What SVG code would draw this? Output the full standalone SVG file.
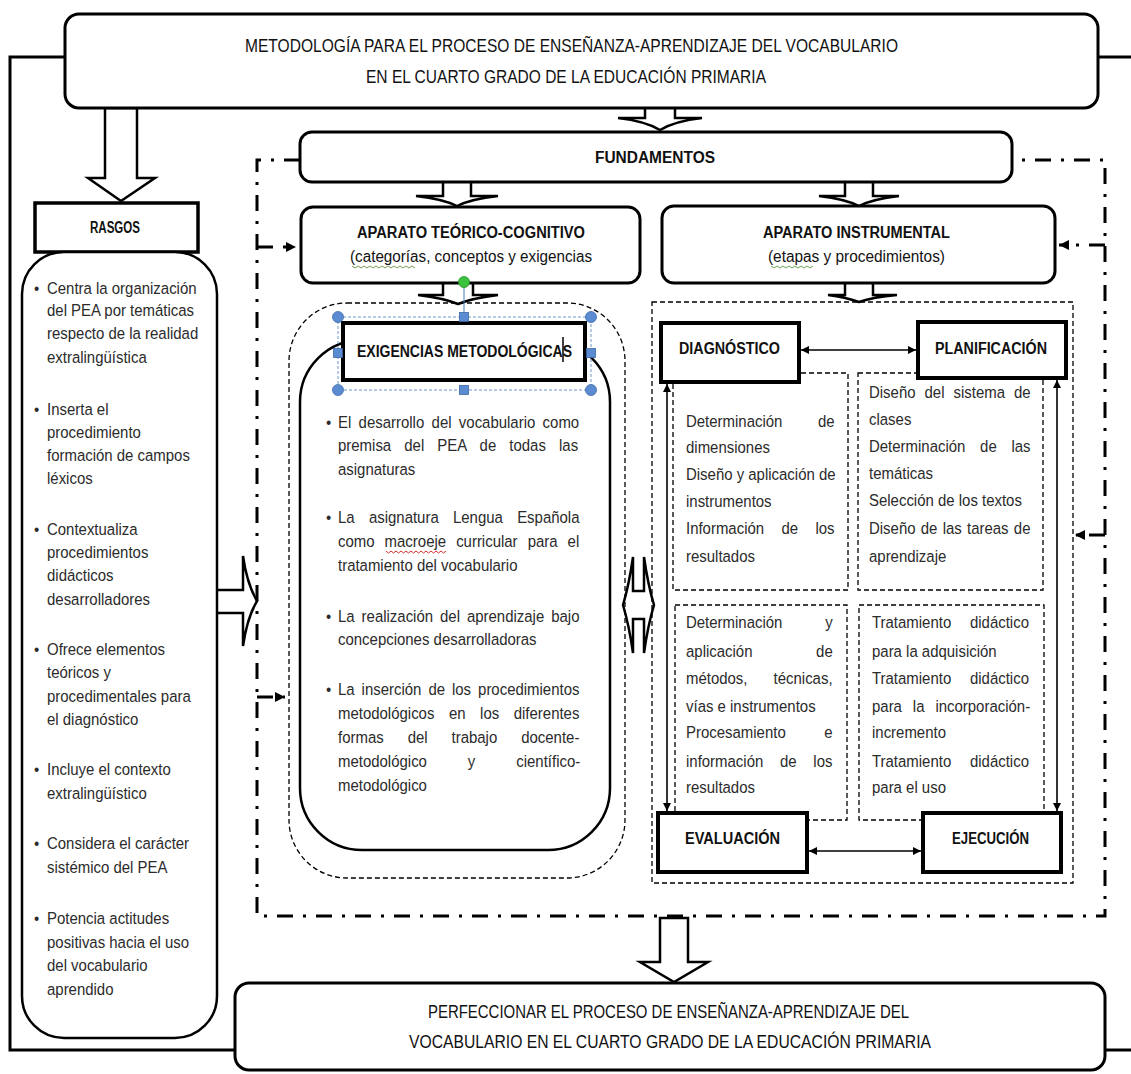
<svg xmlns="http://www.w3.org/2000/svg" width="1131" height="1074" viewBox="0 0 1131 1074">
<defs>
<style>
.box{fill:#fff;stroke:#000;stroke-width:3}
.thick{fill:#fff;stroke:#000;stroke-width:4}
.blk{fill:#fff;stroke:#000;stroke-width:2.5;stroke-linejoin:miter}
.dash{fill:none;stroke:#000;stroke-width:1.3;stroke-dasharray:5 3}
.dd{fill:none;stroke:#000;stroke-width:3;stroke-dasharray:16 10 3 10}
.ln{fill:none;stroke:#000;stroke-width:1.6}
.solid{fill:none;stroke:#000;stroke-width:3}
.t{font-family:"Liberation Sans",Arial,sans-serif;font-size:17px;fill:#2b2b2b}
.h{font-family:"Liberation Sans",Arial,sans-serif;font-weight:bold;font-size:16px;fill:#111}
.tt{font-family:"Liberation Sans",Arial,sans-serif;font-size:18px;fill:#111}
.sub{font-family:"Liberation Sans",Arial,sans-serif;font-size:16px;fill:#111}
.hd{fill:#5b8bd1;stroke:#3d6aa8;stroke-width:0.8}
</style>
<marker id="ah" viewBox="0 0 10 10" refX="10" refY="5" markerWidth="9" markerHeight="8" markerUnits="userSpaceOnUse" orient="auto-start-reverse"><path d="M0,0 L10,5 L0,10 z" fill="#000"/></marker>
<marker id="ah2" viewBox="0 0 10 10" refX="10" refY="5" markerWidth="10" markerHeight="10" markerUnits="userSpaceOnUse" orient="auto"><path d="M0,0 L10,5 L0,10 z" fill="#000"/></marker>
</defs>
<rect width="1131" height="1074" fill="#fff"/>

<g id="connectors">
  <path class="solid" d="M65,57 H10 V1050 H235"/>
  <path class="solid" d="M1098,57 H1131"/>
  <path class="solid" d="M1105,1050 H1131"/>
  <path class="dd" d="M300,160 H257 V916 H1105 V160 H1012"/>
  <path class="dd" d="M257,247 H296" marker-end="url(#ah2)" stroke-dasharray="10 9 3 9"/>
  <path class="dd" d="M257,697 H285" marker-end="url(#ah2)" stroke-dasharray="10 9 3 9"/>
  <path class="dd" d="M1105,245 H1059" marker-end="url(#ah2)" stroke-dasharray="10 9 3 9"/>
  <path class="dd" d="M1105,535 H1075" marker-end="url(#ah2)" stroke-dasharray="10 9 3 9"/>
  <polygon class="blk" points="105,108 137,108 137,178 155,178 121,201 88,178 105,178"/>
  <path class="blk" d="M645,108 V118 H618 Q645,121 660,130 Q675,121 702,118 H675 V108"/>
  <path class="blk" d="M443,182 V196 H416 Q443,199 457,206 Q471,199 498,196 H471 V182"/>
  <path class="blk" d="M845,182 V196 H819 Q845,199 859,206 Q873,199 899,196 H873 V182"/>
  <path class="blk" d="M443,283 V295 H418 Q443,298 458,304 Q473,298 498,295 H473 V283"/>
  <path class="blk" d="M845,283 V295 H828 Q845,297 859,302 Q873,297 897,295 H873 V283"/>
  <polygon class="blk" points="660,918 688,918 688,962 708,962 674,982 640,962 660,962"/>
  <path class="blk" d="M217,590 H243 V556 Q247,584 257,601 Q247,618 243,646 V613 H217"/>
  <path class="blk" d="M633,591 V557 Q629,585 623,605 Q629,625 633,653 V619 H644 V653 Q648,625 654,605 Q648,585 644,557 V591 Z"/>
  <line class="ln" x1="801" y1="350" x2="916" y2="350" marker-start="url(#ah)" marker-end="url(#ah)"/>
  <line class="ln" x1="809" y1="851" x2="921" y2="851" marker-start="url(#ah)" marker-end="url(#ah)"/>
  <line class="ln" x1="667" y1="384" x2="667" y2="811" marker-start="url(#ah)" marker-end="url(#ah)"/>
  <line class="ln" x1="1057" y1="380" x2="1057" y2="811" marker-start="url(#ah)" marker-end="url(#ah)"/>
</g>

<g id="top">
  <rect class="box" x="65" y="14" width="1033" height="94" rx="14"/>
  <text class="tt" x="245" y="52" textLength="653" lengthAdjust="spacingAndGlyphs">METODOLOGÍA PARA EL PROCESO DE ENSEÑANZA-APRENDIZAJE DEL VOCABULARIO</text>
  <text class="tt" x="366" y="83" textLength="400" lengthAdjust="spacingAndGlyphs">EN EL CUARTO GRADO DE LA EDUCACIÓN PRIMARIA</text>
</g>

<g id="rasgos">
  <rect x="35" y="203" width="163" height="49" fill="#fff" stroke="#000" stroke-width="3.5"/>
  <text class="h" x="90" y="233" font-size="14" textLength="50" lengthAdjust="spacingAndGlyphs">RASGOS</text>
</g>

<g id="rasgos-list">
  <rect x="22" y="252" width="195" height="786" rx="42" fill="#fff" stroke="#000" stroke-width="2.5"/>
  <g class="t" transform="translate(47,0) scale(0.88,1)">
    <text x="-14.8" y="294">•</text><text x="0" y="294">Centra la organización</text>
    <text x="0" y="316">del PEA por temáticas</text>
    <text x="0" y="339">respecto de la realidad</text>
    <text x="0" y="363">extralingüística</text>
    <text x="-14.8" y="415">•</text><text x="0" y="415">Inserta el</text>
    <text x="0" y="438">procedimiento</text>
    <text x="0" y="461">formación de campos</text>
    <text x="0" y="484">léxicos</text>
    <text x="-14.8" y="535">•</text><text x="0" y="535">Contextualiza</text>
    <text x="0" y="558">procedimientos</text>
    <text x="0" y="581">didácticos</text>
    <text x="0" y="605">desarrolladores</text>
    <text x="-14.8" y="655">•</text><text x="0" y="655">Ofrece elementos</text>
    <text x="0" y="678">teóricos y</text>
    <text x="0" y="702">procedimentales para</text>
    <text x="0" y="725">el diagnóstico</text>
    <text x="-14.8" y="775">•</text><text x="0" y="775">Incluye el contexto</text>
    <text x="0" y="799">extralingüístico</text>
    <text x="-14.8" y="849">•</text><text x="0" y="849">Considera el carácter</text>
    <text x="0" y="873">sistémico del PEA</text>
    <text x="-14.8" y="924">•</text><text x="0" y="924">Potencia actitudes</text>
    <text x="0" y="948">positivas hacia el uso</text>
    <text x="0" y="971">del vocabulario</text>
    <text x="0" y="995">aprendido</text>
  </g>
</g>

<g id="fundamentos">
  <rect class="box" x="300" y="132" width="712" height="50" rx="12"/>
  <text class="h" x="595" y="163" font-size="17" textLength="120" lengthAdjust="spacingAndGlyphs">FUNDAMENTOS</text>
</g>

<g id="teorico">
  <rect class="box" x="301" y="207" width="339" height="76" rx="12"/>
  <text class="h" x="357" y="238" textLength="228" lengthAdjust="spacingAndGlyphs">APARATO TEÓRICO-COGNITIVO</text>
  <text class="sub" x="350" y="262" textLength="242" lengthAdjust="spacingAndGlyphs">(categorías, conceptos y exigencias</text>
  <path d="M352,266 l3,2 l3,-2 l3,2 l3,-2 l3,2 l3,-2 l3,2 l3,-2 l3,2 l3,-2 l3,2 l3,-2 l3,2 l3,-2 l3,2 l3,-2 l3,2 l3,-2 l3,2 l3,-2 l3,2" fill="none" stroke="#7a9a50" stroke-width="1"/>
</g>

<g id="instrumental">
  <rect class="box" x="662" y="206" width="393" height="77" rx="12"/>
  <text class="h" x="763" y="238" textLength="187" lengthAdjust="spacingAndGlyphs">APARATO INSTRUMENTAL</text>
  <text class="sub" x="768" y="262" textLength="177" lengthAdjust="spacingAndGlyphs">(etapas y procedimientos)</text>
  <path d="M771,266 l3,2 l3,-2 l3,2 l3,-2 l3,2 l3,-2 l3,2 l3,-2 l3,2 l3,-2 l3,2 l3,-2 l3,2 l3,-2" fill="none" stroke="#6aa84f" stroke-width="1"/>
</g>

<g id="exigencias">
  <rect class="dash" x="289" y="303" width="336" height="575" rx="58"/>
  <rect x="300" y="340" width="310" height="510" rx="62" fill="#fff" stroke="#000" stroke-width="2.5"/>
  <rect class="thick" x="343" y="323" width="242" height="57"/>
  <text class="h" x="357" y="357" textLength="215" lengthAdjust="spacingAndGlyphs">EXIGENCIAS METODOLÓGICAS</text>
  <line x1="563" y1="337" x2="563" y2="362" stroke="#000" stroke-width="1.5"/>
  <rect x="338" y="317" width="253" height="73" fill="none" stroke="#6e95c9" stroke-width="1" stroke-dasharray="3 2"/>
  <line x1="464" y1="287" x2="464" y2="313" stroke="#4a7ab8" stroke-width="1"/>
  <circle cx="464" cy="282" r="5.5" fill="#3cc23c" stroke="#2a8f2a" stroke-width="0.8"/>
  <circle class="hd" cx="338" cy="317" r="5.5"/>
  <circle class="hd" cx="591" cy="317" r="5.5"/>
  <circle class="hd" cx="338" cy="390" r="5.5"/>
  <circle class="hd" cx="591" cy="390" r="5.5"/>
  <rect class="hd" x="459.5" y="312.5" width="9" height="9"/>
  <rect class="hd" x="459.5" y="385.5" width="9" height="9"/>
  <rect class="hd" x="333.5" y="348.5" width="9" height="9"/>
  <rect class="hd" x="586.5" y="348.5" width="9" height="9"/>
  <g class="t" transform="translate(338,0) scale(0.88,1)">
    <text x="-13.6" y="428">•</text>
    <text x="0" y="428" word-spacing="3.6">El desarrollo del vocabulario como</text>
    <text x="0" y="451" word-spacing="10.2">premisa del PEA de todas las</text>
    <text x="0" y="475">asignaturas</text>
    <text x="-13.6" y="523">•</text>
    <text x="0" y="523" word-spacing="11.5">La asignatura Lengua Española</text>
    <text x="0" y="547" word-spacing="6.7">como macroeje curricular para el</text>
    <text x="0" y="571">tratamiento del vocabulario</text>
    <text x="-13.6" y="622">•</text>
    <text x="0" y="622" word-spacing="3.2">La realización del aprendizaje bajo</text>
    <text x="0" y="645">concepciones desarrolladoras</text>
    <text x="-13.6" y="695">•</text>
    <text x="0" y="695" word-spacing="3.2">La inserción de los procedimientos</text>
    <text x="0" y="719" word-spacing="11.8">metodológicos en los diferentes</text>
    <text x="0" y="743" word-spacing="22.5">formas del trabajo docente-</text>
    <text x="0" y="767" word-spacing="41.8">metodológico y científico-</text>
    <text x="0" y="791">metodológico</text>
  </g>
  <path d="M386,551 l2.5,2 l2.5,-2 l2.5,2 l2.5,-2 l2.5,2 l2.5,-2 l2.5,2 l2.5,-2 l2.5,2 l2.5,-2 l2.5,2 l2.5,-2 l2.5,2 l2.5,-2 l2.5,2 l2.5,-2 l2.5,2 l2.5,-2 l2.5,2 l2.5,-2 l2.5,2 l2.5,-2 l2.5,2 l2.5,-2" fill="none" stroke="#d03030" stroke-width="1"/>
</g>

<g id="instrumental-panel">
  <rect class="dash" x="652" y="302" width="421" height="581"/>
  <rect class="dash" x="673" y="373" width="175" height="217"/>
  <rect class="dash" x="858" y="373" width="185" height="217"/>
  <rect class="dash" x="675" y="605" width="172" height="215"/>
  <rect class="dash" x="859" y="605" width="185" height="215"/>
</g>

<g id="diagnostico">
  <rect class="thick" x="661" y="323" width="138" height="59"/>
  <text class="h" x="679" y="354" textLength="101" lengthAdjust="spacingAndGlyphs">DIAGNÓSTICO</text>
</g>
<g id="planificacion">
  <rect class="thick" x="918" y="322" width="148" height="56"/>
  <text class="h" x="935" y="354" textLength="112" lengthAdjust="spacingAndGlyphs">PLANIFICACIÓN</text>
</g>
<g id="evaluacion">
  <rect class="thick" x="658" y="813" width="149" height="59"/>
  <text class="h" x="685" y="844" textLength="95" lengthAdjust="spacingAndGlyphs">EVALUACIÓN</text>
</g>
<g id="ejecucion">
  <rect class="thick" x="923" y="813" width="138" height="59"/>
  <text class="h" x="952" y="844" textLength="77" lengthAdjust="spacingAndGlyphs">EJECUCIÓN</text>
</g>

<g id="diagnostico-texto" class="t" transform="translate(686,0) scale(0.88,1)">
  <text x="0" y="427" word-spacing="35.8">Determinación de</text>
  <text x="0" y="453">dimensiones</text>
  <text x="0" y="480">Diseño y aplicación de</text>
  <text x="0" y="507">instrumentos</text>
  <text x="0" y="534" word-spacing="15">Información de los</text>
  <text x="0" y="562">resultados</text>
</g>
<g id="planificacion-texto" class="t" transform="translate(869,0) scale(0.88,1)">
  <text x="0" y="398" word-spacing="5.5">Diseño del sistema de</text>
  <text x="0" y="425">clases</text>
  <text x="0" y="452" word-spacing="12">Determinación de las</text>
  <text x="0" y="479">temáticas</text>
  <text x="0" y="506">Selección de los textos</text>
  <text x="0" y="534" word-spacing="1.25">Diseño de las tareas de</text>
  <text x="0" y="562">aprendizaje</text>
</g>
<g id="evaluacion-texto" class="t" transform="translate(686,0) scale(0.88,1)">
  <text x="0" y="628" word-spacing="43.9">Determinación y</text>
  <text x="0" y="657" word-spacing="67.6">aplicación de</text>
  <text x="0" y="684" word-spacing="24.9">métodos, técnicas,</text>
  <text x="0" y="712">vías e instrumentos</text>
  <text x="0" y="738" word-spacing="39.2">Procesamiento e</text>
  <text x="0" y="767" word-spacing="14.3">información de los</text>
  <text x="0" y="793">resultados</text>
</g>
<g id="ejecucion-texto" class="t" transform="translate(872,0) scale(0.88,1)">
  <text x="0" y="628" word-spacing="16.6">Tratamiento didáctico</text>
  <text x="0" y="657">para la adquisición</text>
  <text x="0" y="684" word-spacing="16.6">Tratamiento didáctico</text>
  <text x="0" y="712" word-spacing="7.7">para la incorporación-</text>
  <text x="0" y="738">incremento</text>
  <text x="0" y="767" word-spacing="16.6">Tratamiento didáctico</text>
  <text x="0" y="793">para el uso</text>
</g>

<g id="bottom">
  <rect class="box" x="235" y="983" width="870" height="87" rx="14"/>
  <text class="tt" x="428" y="1018" textLength="481" lengthAdjust="spacingAndGlyphs">PERFECCIONAR EL PROCESO DE ENSEÑANZA-APRENDIZAJE DEL</text>
  <text class="tt" x="409" y="1048" textLength="522" lengthAdjust="spacingAndGlyphs">VOCABULARIO EN EL CUARTO GRADO DE LA  EDUCACIÓN PRIMARIA</text>
</g>
</svg>
